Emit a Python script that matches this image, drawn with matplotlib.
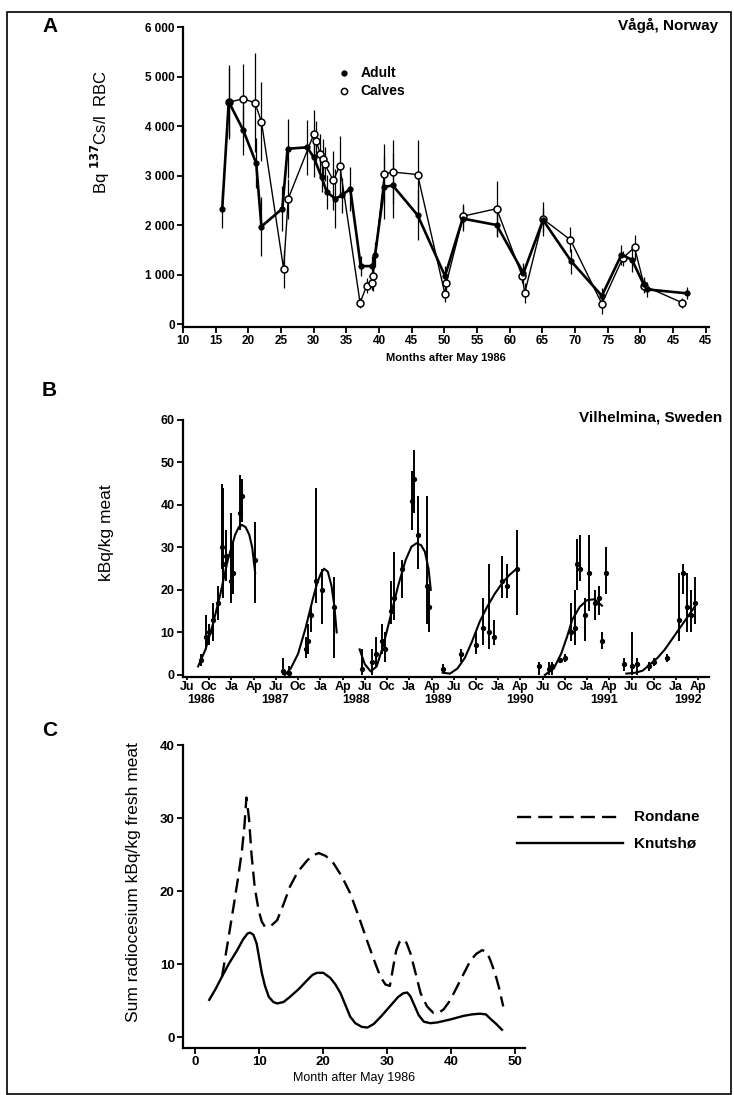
import numpy as np
import matplotlib.pyplot as plt
from matplotlib.lines import Line2D
from matplotlib.patches import Rectangle
import matplotlib.transforms as mtransforms

plt.rcParams['font.family'] = ['Liberation Sans', 'DejaVu Sans']
plt.rcParams['font.weight'] = 'bold'

# ---------------- Panel A data: Vaga, Norway (Bq 137Cs/l RBC) ----------------
adult_month = [16, 17, 19.2, 21.2, 22, 25.2, 26, 29, 30, 31.2, 32, 33.3, 34.3, 35.6,
               37.2, 39, 39.4, 40.8, 42.1, 45.9, 50.1, 52.8, 58, 62.1, 65.1, 69.4,
               74.1, 77.1, 78.7, 80.5, 81, 87.1]
adult_val = [2320, 4490, 3920, 3250, 1970, 2330, 3540, 3570, 3370, 2970, 2670, 2530, 2600, 2730,
             1170, 1170, 1400, 2770, 2800, 2200, 970, 2130, 2000, 1030, 2100, 1270,
             570, 1400, 1300, 800, 700, 620]
adult_err = [380, 750, 500, 500, 600, 450, 600, 550, 400, 300, 350, 600, 350, 450,
             200, 200, 250, 650, 650, 500, 200, 250, 250, 200, 250, 250,
             150, 200, 250, 150, 150, 120]

calf_month = [17, 19.2, 21.0, 22.0, 25.4, 26.1, 30.0, 30.4, 31.0, 31.4, 31.7, 33.0, 34.0,
              37.1, 38.1, 38.9, 39.1, 40.8, 42.1, 45.9, 50.1, 50.3, 52.9, 58.0, 61.9, 62.3,
              65.1, 69.3, 74.1, 77.3, 79.1, 80.6, 86.4]
calf_val = [4480, 4550, 4470, 4090, 1110, 2530, 3830, 3700, 3430, 3330, 3230, 2900, 3200,
            430, 770, 830, 970, 3030, 3070, 3020, 600, 830, 2180, 2330, 970, 630,
            2120, 1700, 410, 1330, 1550, 770, 430]
calf_err = [700, 700, 1000, 800, 380, 400, 500, 400, 400, 400, 350, 600, 600,
            100, 150, 150, 300, 600, 650, 700, 150, 150, 250, 550, 150, 200,
            350, 250, 200, 150, 250, 150, 100]

a_xticks = list(range(10, 95, 5))
a_xticklabels = ['10', '15', '20', '25', '30', '35', '40', '45', '50', '55', '60',
                 '65', '70', '75', '80', '45', '45']
a_yticks = [0, 1000, 2000, 3000, 4000, 5000, 6000]
a_yticklabels = ['0', '1 000', '2 000', '3 000', '4 000', '5 000', '6 000']

# ---------------- Panel B data: Vilhelmina, Sweden (kBq/kg meat) ----------------
# x = months after July 1986
b_t = [1.9, 2.5, 3.0, 3.5, 4.2, 4.7, 4.9, 5.2, 6.0, 6.2, 7.2, 7.4, 9.2,
       12.9, 13.8, 16.0, 16.3, 16.8, 17.4, 18.2, 19.8,
       23.6, 25.0, 25.5, 26.3, 26.7, 27.5, 28.0, 29.0, 30.3, 30.6, 31.2, 32.4, 32.7,
       34.6, 37.0, 39.0, 40.0, 40.8, 41.5, 42.5, 43.2, 44.6,
       47.5, 48.8, 49.2, 50.3, 51.0, 51.8, 52.3, 52.6, 53.0, 53.7, 54.3, 55.0, 55.6, 56.0, 56.5,
       59.0, 60.0, 60.8, 62.3, 63.0, 64.8, 66.4, 66.9, 67.5, 68.0, 68.6]
b_v = [3.5, 9, 10, 13, 17, 30, 26, 28, 22, 24, 38, 42, 27,
       1, 0.5, 6, 8, 14, 22, 20, 16,
       1.5, 3, 5, 8, 6, 15, 18, 25, 41, 46, 33, 21, 16,
       1.5, 5, 7, 11, 10, 9, 22, 21, 25,
       2, 1.5, 2, 3.5, 4, 10, 11, 26, 25, 14, 24, 17, 18, 8, 24,
       2.5, 2, 2.5, 2, 3, 4, 13, 24, 16, 14, 17]
b_lo = [2, 6, 7, 8, 13, 25, 18, 22, 17, 19, 34, 36, 17,
        0, 0, 4, 5, 10, 17, 12, 4,
        0, 0, 2, 5, 3, 12, 13, 18, 34, 38, 25, 12, 10,
        0.5, 3, 5, 7, 6, 7, 18, 18, 14,
        0, 0, 0, 3, 3, 8, 7, 20, 22, 8, 15, 13, 14, 6, 19,
        1, 0, 0, 1, 2, 3, 8, 19, 10, 10, 12]
b_hi = [5, 14, 12, 17, 21, 45, 44, 34, 38, 31, 47, 46, 36,
        4, 2, 9, 12, 16, 44, 25, 23,
        6, 6, 9, 12, 10, 22, 29, 27, 48, 53, 42, 42, 21,
        2.5, 6, 10, 18, 26, 13, 28, 26, 34,
        3, 3, 3, 4, 5, 17, 20, 32, 33, 18, 33, 20, 21, 10, 30,
        4, 10, 4, 3, 4, 5, 24, 26, 24, 20, 23]

# seasonal fitted curves
b_curves = [
    ([1.5, 2.5, 3.5, 4.5, 5.5, 6.5, 7.0, 7.4, 7.9, 8.4, 8.8, 9.2],
     [2, 6, 12, 19, 27, 33, 34.8, 35.3, 34.8, 33, 30, 24]),
    ([13.2, 14, 15, 16, 17, 17.6, 18.1, 18.5, 19.0, 19.5, 19.9, 20.2],
     [0, 1.5, 5, 11, 18, 21.8, 24, 25, 24.3, 21, 16, 10]),
    ([23.3, 24, 24.8, 25.6, 26.5, 27.5, 28.5, 29.5, 30.3, 31.0, 31.6, 32.1, 32.6, 32.9],
     [6, 2.5, 0.8, 2, 7, 14, 21, 27, 30.2, 31, 30.5, 29, 25, 20]),
    ([34.5, 35.5, 36.5, 37.5, 38.5, 39.5, 40.5, 41.5, 42.5, 43.5, 44.5],
     [0.5, 0.3, 1.5, 4, 8, 12.5, 16, 19, 21.5, 23.5, 25]),
    ([48.3, 49.5, 50.5, 51.3, 52, 53, 54, 55, 56],
     [0, 1.5, 5, 9, 13, 16, 17.6, 17.8, 16.3]),
    ([59.3, 60.5, 61.5, 62.5, 63.5, 64.5, 65.5, 66.5, 67.5, 68.5],
     [0.3, 0.5, 1, 2.5, 4, 6, 8.5, 11, 13.5, 16]),
]
b_xticks = list(range(0, 70, 3))
b_xticklabels = ['Ju', 'Oc', 'Ja', 'Ap'] * 6
b_years = ['1986', '1987', '1988', '1989', '1990', '1991', '1992']
b_year_pos = [1.9, 11.9, 22.8, 33.9, 44.9, 56.3, 67.6]

# ---------------- Panel C data: Rondane / Knutsho ----------------
ron_x = [4.2, 5.0, 6.0, 6.7, 7.3, 7.7, 8.0, 8.4, 8.8, 9.3, 9.9, 10.4, 10.9, 11.8, 12.8, 13.8,
         14.8, 16.0, 17.5, 18.4, 19.3, 20.4, 21.6, 22.9, 24.2, 25.5, 26.8, 27.9, 28.9, 29.7,
         30.4, 30.9, 31.4, 31.9, 32.4, 33.0, 33.6, 34.4, 35.2, 36.2, 37.2, 38.0, 38.8, 39.8,
         40.9, 42.0, 43.0, 43.9, 44.8, 45.5, 46.1, 46.8, 47.4, 48.1]
ron_y = [8.3, 12.5, 17.9, 21.8, 25.5, 29, 32.8, 30, 25, 20.5, 17.4, 15.8, 15.1, 15.2, 16.0, 18.2,
         20.6, 22.6, 24.2, 24.9, 25.2, 24.8, 23.8, 22.0, 19.7, 16.6, 13.3, 10.6, 8.3, 7.2,
         7.0, 9.5, 11.9, 13.0, 13.4, 12.9, 11.5, 8.8, 6.0, 4.2, 3.3, 3.3, 3.8, 5.0,
         6.9, 8.8, 10.5, 11.4, 11.9, 11.7, 10.5, 8.8, 6.9, 4.2]
knu_x = [2.2, 3.2, 4.2, 5.3, 6.5, 7.5, 8.2, 8.6, 9.1, 9.6, 10.0, 10.4, 10.9, 11.5, 12.2,
         12.8, 13.8, 14.8, 16.2, 17.5, 18.3, 19.0, 20.0, 21.1, 21.9, 22.7, 23.5, 24.2, 25.0,
         26.0, 26.9, 27.9, 29.0, 30.2, 31.7, 32.5, 33.1, 33.6, 34.1, 34.9, 35.7, 36.7, 37.8,
         39.8, 41.9, 43.2, 44.5, 45.4, 46.1, 47.0, 47.9]
knu_y = [5.1, 6.6, 8.3, 10.1, 11.8, 13.4, 14.2, 14.3, 14.0, 12.8, 10.8, 8.8, 7.0, 5.5, 4.8,
         4.6, 4.8, 5.5, 6.6, 7.8, 8.5, 8.8, 8.8, 8.1, 7.2, 6.0, 4.3, 2.8, 1.9,
         1.4, 1.3, 1.8, 2.8, 4.0, 5.5, 6.0, 6.1, 5.6, 4.6, 3.0, 2.1, 1.9, 2.0,
         2.4, 2.9, 3.1, 3.2, 3.1, 2.5, 1.8, 1.0]

W, H = 734, 1095


def box(x0, y0, x1, y1):
    return [x0 / W, 1 - y1 / H, (x1 - x0) / W, (y1 - y0) / H]


def style(ax, size=8.5):
    for s in ['top', 'right']:
        ax.spines[s].set_visible(False)
    for s in ['left', 'bottom']:
        ax.spines[s].set_linewidth(1.6)
    ax.tick_params(direction='out', length=4, width=1.3, labelsize=size, pad=2)
    for lab in ax.get_xticklabels() + ax.get_yticklabels():
        lab.set_fontweight('bold')


fig = plt.figure(figsize=(W / 100, H / 100), dpi=100)
fig.add_artist(Rectangle((7 / W, 1 / H), (731 - 7) / W, 1 - 13 / H, fill=False,
                         lw=1.2, color='k', transform=fig.transFigure))

# ---- A ----
axA = fig.add_axes(box(183, 27, 709, 327))
axA.errorbar(adult_month, adult_val, yerr=adult_err, fmt='none', ecolor='k', elinewidth=0.9)
axA.errorbar(calf_month, calf_val, yerr=calf_err, fmt='none', ecolor='k', elinewidth=0.9)
axA.plot(calf_month, calf_val, '-', color='k', lw=1.0, marker='o', ms=5,
         mfc='white', mec='k', mew=1.1)
axA.plot(adult_month, adult_val, '-', color='k', lw=1.9, marker='o', ms=3.5, mfc='k', mec='k')
axA.set_xlim(10, 90.5)
axA.set_ylim(-60, 6000)
axA.set_xticks(a_xticks)
axA.set_xticklabels(a_xticklabels)
axA.set_yticks(a_yticks)
axA.set_yticklabels(a_yticklabels)
axA.set_xlabel('Months after May 1986', fontsize=8, fontweight='bold', labelpad=4)
axA.set_ylabel(r'Bq $^{137}$Cs/l  RBC', fontsize=12, fontweight='normal')
axA.yaxis.set_label_coords(-0.135, 0.65)
style(axA)
axA.plot([34.6], [5070], 'o', color='k', ms=3.5)
axA.plot([34.6], [4700], 'o', mfc='white', mec='k', ms=4.5, mew=1.1)
axA.text(37.2, 5070, 'Adult', fontsize=10, va='center', ha='left')
axA.text(37.2, 4700, 'Calves', fontsize=10, va='center', ha='left')
fig.text(718 / W, 1 - 25 / H, 'Vågå, Norway', fontsize=11, ha='right', va='center')
fig.text(42 / W, 1 - 26 / H, 'A', fontsize=15, ha='left', va='center')

# ---- B ----
axB = fig.add_axes(box(183, 420, 709, 677))
lo_err = [v - l for v, l in zip(b_v, b_lo)]
hi_err = [h - v for v, h in zip(b_v, b_hi)]
axB.errorbar(b_t, b_v, yerr=[lo_err, hi_err], fmt='o', color='k', ms=2.8,
             ecolor='k', elinewidth=1.4)
for cx, cy in b_curves:
    axB.plot(cx, cy, '-', color='k', lw=1.5)
axB.set_xlim(-0.54, 70.45)
axB.set_ylim(-0.5, 60)
axB.set_xticks(b_xticks)
axB.set_xticklabels(b_xticklabels)
axB.set_yticks([0, 10, 20, 30, 40, 50, 60])
axB.set_ylabel('kBq/kg meat', fontsize=12.5, fontweight='normal')
axB.yaxis.set_label_coords(-0.131, 0.56)
style(axB, 9)
axB.tick_params(axis='x', length=2, pad=1)
trans = mtransforms.blended_transform_factory(axB.transData, fig.transFigure)
for yr, p in zip(b_years, b_year_pos):
    axB.text(p, 1 - 700 / H, yr, transform=trans, fontsize=9, ha='center', va='center')
fig.text(722 / W, 1 - 418 / H, 'Vilhelmina, Sweden', fontsize=11, ha='right', va='center')
fig.text(42 / W, 1 - 390 / H, 'B', fontsize=15, ha='left', va='center')

# ---- C ----
axC = fig.add_axes(box(183, 745, 525, 1048))
axC.plot(ron_x, ron_y, color='k', lw=1.7, dashes=(6, 3))
axC.plot(knu_x, knu_y, color='k', lw=1.7)
axC.set_xlim(-1.9, 51.5)
axC.set_ylim(-1.5, 40)
axC.set_xticks([0, 10, 20, 30, 40, 50])
axC.set_yticks([0, 10, 20, 30, 40])
axC.set_xlabel('Month after May 1986', fontsize=9, fontweight='normal', labelpad=3)
axC.set_ylabel('Sum radiocesium kBq/kg fresh meat', fontsize=12.5, fontweight='normal')
axC.yaxis.set_label_coords(-0.123, 0.548)
style(axC, 9.5)
fig.add_artist(Line2D([517 / W, 623 / W], [1 - 817 / H, 1 - 817 / H], color='k', lw=1.7,
                      dashes=(6, 3), transform=fig.transFigure))
fig.add_artist(Line2D([517 / W, 623 / W], [1 - 843 / H, 1 - 843 / H], color='k', lw=1.7,
                      transform=fig.transFigure))
fig.text(634 / W, 1 - 817 / H, 'Rondane', fontsize=11, ha='left', va='center')
fig.text(634 / W, 1 - 843 / H, 'Knutshø', fontsize=11, ha='left', va='center')
fig.text(42 / W, 1 - 730 / H, 'C', fontsize=15, ha='left', va='center')

fig.savefig('out.png', dpi=100)
